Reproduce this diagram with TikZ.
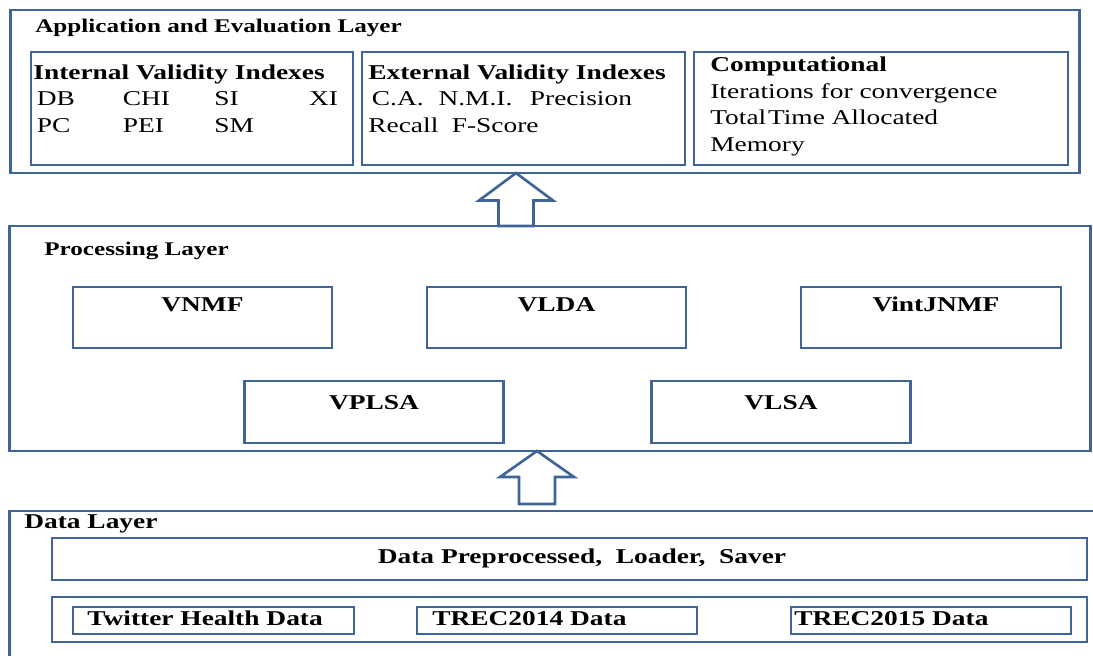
\documentclass[tikz,border=0pt]{standalone}
\usepackage{fontspec}
\setmainfont{Liberation Serif}[FakeStretch=1.3]

\definecolor{edge}{RGB}{64,100,152}

\tikzset{
  layer/.style={draw=edge, line width=1.6pt, inner sep=0pt},
  group/.style={draw=edge, line width=1.5pt, inner sep=0pt, minimum height=2.26cm},
  method/.style={draw=edge, line width=1.5pt, inner sep=0pt, minimum width=5.18cm,
    font=\fontsize{12}{14}\selectfont\bfseries, text height=0.48cm, text depth=0.74cm},
  bar/.style={draw=edge, line width=1.5pt, inner sep=0pt, minimum width=20.7cm},
  source/.style={draw=edge, line width=1.5pt, inner sep=0pt, minimum width=5.6cm, minimum height=0.54cm},
  heading/.style={anchor=base west, inner sep=0pt, font=\fontsize{11}{13}\selectfont\bfseries},
  entry/.style={anchor=base west, inner sep=0pt, align=left, font=\fontsize{12}{15}\selectfont},
  hollow/.style={draw=edge, line width=1.5pt, fill=white, line join=miter},
}

\begin{document}
\begin{tikzpicture}[x=0.02cm, y=-0.02cm]
  \useasboundingbox (0,0) rectangle (1093,656);

  % Application and evaluation layer
  \node[layer, minimum width=21.4cm, minimum height=3.26cm] (appl) at (545,91.5) {};
  \node[heading] (applhead) at (35,32) {Application and Evaluation Layer};
  \node[group, minimum width=6.44cm] (internal) at (192,108.5) {};
  \node[group, minimum width=6.46cm] (external) at (523.5,108.5) {};
  \node[group, minimum width=7.48cm] (comp) at (881,108.5) {};

  % (base of a multi-line entry = baseline of its last line)
  \node[entry] (internaltxt) at (33,132) {\textbf{Internal Validity Indexes}\\
    \hspace*{2pt}\makebox[49pt][l]{DB}\makebox[52pt][l]{CHI}\makebox[54pt][l]{SI}XI\\
    \hspace*{2pt}\makebox[49pt][l]{PC}\makebox[52pt][l]{PEI}SM};
  \node[entry] (externaltxt) at (368,132) {\textbf{External Validity Indexes}\\
    \hspace*{2pt}\makebox[38pt][l]{C.A.}\makebox[52pt][l]{N.M.I.}Precision\\
    \makebox[47.5pt][l]{Recall}F-Score};
  \node[entry] (comptxt) at (710,151) {\textbf{Computational}\\
    Iterations for convergence\\
    \makebox[69pt][l]{Total\hspace{1pt}Time}Allocated\\
    Memory};

  % Processing layer
  \node[layer, minimum width=21.64cm, minimum height=4.5cm] (proc) at (550,338.5) {};
  \node[heading] (prochead) at (44,255) {Processing Layer};
  \node[method] (vnmf) at (202.5,317.5) {VNMF};
  \node[method] (vlda) at (556.5,317.5) {VLDA};
  \node[method, minimum width=5.2cm] (vintjnmf) at (931,317.5) {\hspace*{0.2cm}VintJNMF};
  \node[method, text height=0.56cm, text depth=0.68cm] (vplsa) at (374,412) {VPLSA};
  \node[method, text height=0.56cm, text depth=0.68cm] (vlsa) at (781,412) {VLSA};

  % Data layer
  \node[layer, minimum width=21.76cm, minimum height=3.18cm] (data) at (553,590.5) {};
  \node[heading, font=\fontsize{12}{14}\selectfont\bfseries] (datahead) at (24,528) {Data Layer};
  \node[bar, font=\fontsize{12}{14}\selectfont\bfseries, text height=0.5cm, text depth=0.34cm]
    (loader) at (569.5,559) {\hspace*{0.5cm}Data Preprocessed,\ \ Loader,\ \ Saver};
  \node[bar, minimum height=0.9cm] (sources) at (569.5,619.5) {};
  \node[source, minimum width=5.62cm] (twitter) at (213.5,620.5) {};
  \node[source] (trec14) at (557,620.5) {};
  \node[source] (trec15) at (931,620.5) {};
  \node[heading, font=\fontsize{12}{14}\selectfont\bfseries] (twittertxt) at (87,625) {Twitter Health Data};
  \node[heading, font=\fontsize{12}{14}\selectfont\bfseries] (trec14txt) at (432,625) {TREC2014 Data};
  \node[heading, font=\fontsize{12}{14}\selectfont\bfseries] (trec15txt) at (794,625) {TREC2015 Data};

  % Block arrows between layers
  \coordinate (up1) at (516,173);
  \coordinate (up2) at (537,451);
  \draw[hollow] (up1) -- ++(37,27.5) -- ++(-19.5,0) -- ++(0,25.5) -- ++(-35,0)
    -- ++(0,-25.5) -- ++(-19.5,0) -- cycle;
  \draw[hollow] (up2) -- ++(37,26) -- ++(-19,0) -- ++(0,27) -- ++(-36,0)
    -- ++(0,-27) -- ++(-19,0) -- cycle;
\end{tikzpicture}
\end{document}
